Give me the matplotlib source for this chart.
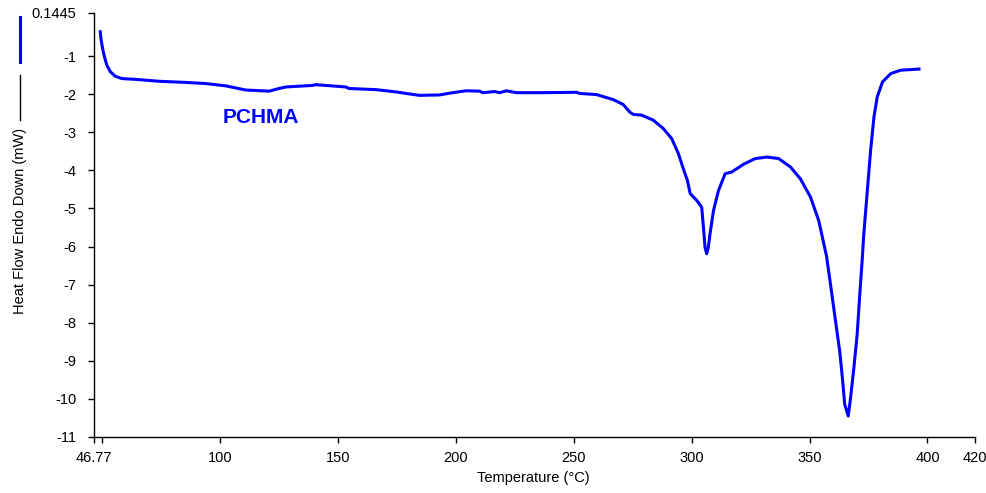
import numpy as np
import matplotlib
matplotlib.use("Agg")
import matplotlib.pyplot as plt
from matplotlib.lines import Line2D

plt.rcParams['font.family'] = ['Liberation Sans', 'DejaVu Sans']

## DSC trace, PCHMA
temp = [49.3, 49.7, 50.3, 51.1, 52.1, 53.6, 55.7, 58.5, 64.2, 74.1, 85.4, 94.0,
        102.4, 111.0, 120.9, 125.1, 128.0, 139.2, 140.7, 153.4, 154.8, 166.2,
        174.7, 178.9, 184.6, 193.1, 198.7, 204.4, 210.1, 211.5, 216.5, 218.6,
        221.5, 225.7, 235.6, 251.2, 252.6, 259.7, 266.7, 271.0, 273.8, 275.3,
        278.8, 283.7, 288.0, 291.6, 294.4, 296.5, 298.2, 299.4, 302.2, 304.3,
        305.0, 305.7, 306.4, 307.1, 307.8, 309.3, 311.4, 314.2, 317.1, 322.0,
        327.0, 332.0, 336.9, 341.9, 346.1, 350.4, 353.9, 357.2, 358.9, 361.0,
        362.8, 364.0, 364.9, 366.4, 367.4, 368.8, 370.2, 371.3, 372.3, 373.0,
        374.5, 375.9, 377.3, 378.7, 380.9, 384.4, 388.6, 396.4]
heat_flow = [-0.36, -0.58, -0.80, -1.02, -1.24, -1.41, -1.53, -1.59, -1.61, -1.66, -1.69, -1.72,
             -1.78, -1.89, -1.92, -1.85, -1.81, -1.77, -1.75, -1.81, -1.85, -1.88,
             -1.94, -1.98, -2.03, -2.02, -1.96, -1.91, -1.92, -1.96, -1.93, -1.96,
             -1.91, -1.96, -1.96, -1.95, -1.98, -2.01, -2.14, -2.27, -2.47, -2.53,
             -2.55, -2.68, -2.90, -3.17, -3.56, -3.96, -4.26, -4.61, -4.79, -4.97,
             -5.49, -6.02, -6.19, -6.02, -5.67, -5.05, -4.53, -4.09, -4.04, -3.84,
             -3.69, -3.65, -3.69, -3.91, -4.22, -4.70, -5.32, -6.25, -7.00, -7.95,
             -8.75, -9.50, -10.14, -10.45, -9.97, -9.18, -8.30, -7.25, -6.37, -5.67,
             -4.53, -3.47, -2.60, -2.07, -1.68, -1.46, -1.37, -1.34]

x_ticks = [46.77, 50, 100, 150, 200, 250, 300, 350, 400, 420]
x_ticklabels = ["46.77", "", "100", "150", "200", "250", "300", "350", "400", "420"]
y_ticks = [-11, -10, -9, -8, -7, -6, -5, -4, -3, -2, -1, 0.1445]
y_ticklabels = ["-11", "-10", "-9", "-8", "-7", "-6", "-5", "-4", "-3", "-2", "-1", "0.1445"]

## PLOT
fig = plt.figure(figsize=(9.86, 4.93), dpi=100)
ax = fig.add_axes([0.0956, 0.1136, 0.8929, 0.861])

ax.plot(temp, heat_flow, color="#0000ff", lw=2.2, solid_joinstyle="round")
ax.text(101.0, -2.62, "PCHMA", color="#0000ff", fontsize=15, fontweight="bold",
        ha="left", va="center")

ax.set_xlim(46.77, 420)
ax.set_ylim(-11, 0.1445)
ax.set_xticks(x_ticks)
ax.set_xticklabels(x_ticklabels)
ax.set_yticks(y_ticks)
ax.set_yticklabels(y_ticklabels)

ax.spines["top"].set_visible(False)
ax.spines["right"].set_visible(False)
for s in ["left", "bottom"]:
    ax.spines[s].set_linewidth(1.0)
ax.tick_params(axis="both", direction="out", length=4, width=1.0,
               labelsize=10.5, colors="black")
ax.tick_params(axis="y", pad=9)
ax.tick_params(axis="x", pad=6)

# axis titles drawn on the figure, with the series key lines beside the y title
fig.text(533 / 986, 1 - 478 / 493, "Temperature (°C)", fontsize=10.5,
         ha="center", va="center")
fig.text(20 / 986, 1 - 221 / 493, "Heat Flow Endo Down (mW)", fontsize=10.5,
         rotation=90, ha="center", va="center")
fig.add_artist(Line2D([19.5 / 986, 19.5 / 986], [1 - 62 / 493, 1 - 17 / 493],
                      color="#0000ff", lw=2.2, transform=fig.transFigure))
fig.add_artist(Line2D([19.5 / 986, 19.5 / 986], [1 - 120 / 493, 1 - 75 / 493],
                      color="black", lw=1.0, transform=fig.transFigure))

fig.savefig("out.png", dpi=100)
